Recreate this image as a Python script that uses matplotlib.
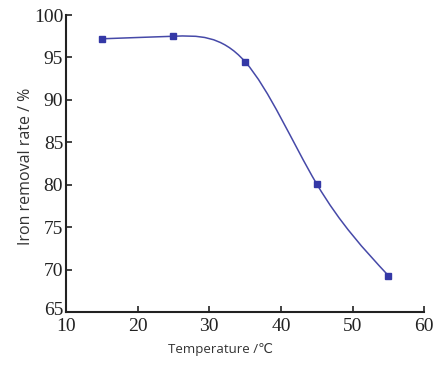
import numpy as np
import matplotlib.pyplot as plt
import matplotlib.transforms as mtransforms
from matplotlib.path import Path
from matplotlib.patches import PathPatch

temperature = [15, 25, 35, 45, 55]
removal_rate = [97.2, 97.5, 94.5, 80.1, 69.3]

x_ticks = [10, 20, 30, 40, 50, 60]
y_ticks = [65, 70, 75, 80, 85, 90, 95, 100]

line_color = '#4649a8'
marker_color = '#3438a6'


def spline_path(xs, ys):
    # natural cubic spline, written as bezier segments for Path
    xs = np.asarray(xs, float)
    ys = np.asarray(ys, float)
    n = len(xs)
    h = np.diff(xs)
    A = np.zeros((n, n))
    b = np.zeros(n)
    A[0, 0] = A[-1, -1] = 1
    for i in range(1, n - 1):
        A[i, i - 1] = h[i - 1]
        A[i, i] = 2 * (h[i - 1] + h[i])
        A[i, i + 1] = h[i]
        b[i] = 6 * ((ys[i + 1] - ys[i]) / h[i] - (ys[i] - ys[i - 1]) / h[i - 1])
    m = np.linalg.solve(A, b)
    d = np.empty(n)
    for i in range(n - 1):
        d[i] = (ys[i + 1] - ys[i]) / h[i] - h[i] * (2 * m[i] + m[i + 1]) / 6
    d[-1] = (ys[-1] - ys[-2]) / h[-1] + h[-1] * (m[-2] + 2 * m[-1]) / 6

    verts = [(xs[0], ys[0])]
    codes = [Path.MOVETO]
    for i in range(n - 1):
        verts += [(xs[i] + h[i] / 3, ys[i] + d[i] * h[i] / 3),
                  (xs[i + 1] - h[i] / 3, ys[i + 1] - d[i + 1] * h[i] / 3),
                  (xs[i + 1], ys[i + 1])]
        codes += [Path.CURVE4] * 3
    return Path(verts, codes)


fig = plt.figure(figsize=(4.46, 3.76), dpi=100)
ax = fig.add_axes([0.148, 0.170, 0.803, 0.790])

ax.add_patch(PathPatch(spline_path(temperature, removal_rate), fill=False,
                       edgecolor=line_color, linewidth=1.1))
ax.plot(temperature, removal_rate, linestyle='none', marker='s',
        markersize=5, color=marker_color)

ax.set_xlim(10, 60)
ax.set_ylim(65, 100)
ax.set_xticks(x_ticks)
ax.set_yticks(y_ticks)

for side in ['top', 'right']:
    ax.spines[side].set_visible(False)
for side in ['left', 'bottom']:
    ax.spines[side].set_linewidth(1.5)
    ax.spines[side].set_color('#222222')

ax.tick_params(direction='in', length=4, width=1.2, colors='#222222',
               labelsize=14)
ax.tick_params(axis='y', pad=2)
ax.tick_params(axis='x', pad=4)
for lab in ax.get_xticklabels() + ax.get_yticklabels():
    lab.set_family('Liberation Serif')

ax.set_xlabel('Temperature /℃', family=['Open Sans', 'DejaVu Sans', 'Noto Sans CJK SC'],
              fontsize=9.5, color='#333333')
ax.set_ylabel('Iron removal rate / %', family=['Open Sans', 'DejaVu Sans'],
              fontsize=11.5, color='#333333')
ax.xaxis.set_label_coords(0.43, -0.105)
ax.yaxis.set_label_coords(-0.088, 0.49)

# lift the bottom y label a little, as in the original, so it clears "10"
first = ax.yaxis.get_major_ticks()[0].label1
first.set_transform(first.get_transform() +
                    mtransforms.ScaledTranslation(0, 4 / 100, fig.dpi_scale_trans))

plt.savefig('out.png', dpi=100)
